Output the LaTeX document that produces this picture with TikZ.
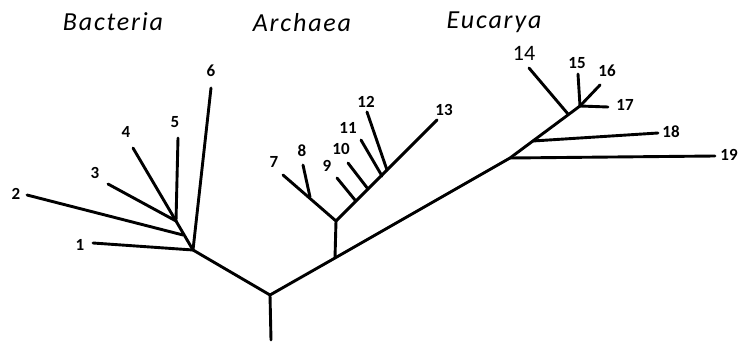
\documentclass[tikz,border=0pt]{standalone}
\usepackage{fontspec}
\setmainfont{Carlito}
\newfontfamily\titlefont[LetterSpace=7]{Carlito}
\begin{document}
\begin{tikzpicture}[x=1pt,y=-1pt,
  branch/.style={line width=2.9pt,line cap=round,line join=round},
  leaf/.style={font=\bfseries\fontsize{17}{17}\selectfont,inner sep=0pt},
  kingdom/.style={font=\titlefont\itshape\fontsize{26}{26}\selectfont,inner sep=0pt}]
\useasboundingbox (0,0) rectangle (740,343);
% domain titles
\node[kingdom] (tb) at (113,22) {Bacteria};
\node[kingdom] (ta) at (302,23) {Archaea};
\node[kingdom] (te) at (494,22) {Eucarya};
% junctions of the tree
\coordinate (root) at (271,340);
\coordinate (r) at (270,295);
\coordinate (jb) at (193,250);
\coordinate (jb2) at (183,235);
\coordinate (jb3) at (176,221);
\coordinate (ja0) at (335,258);
\coordinate (ja) at (336,221);
\coordinate (ja7) at (310,197);
\coordinate (ja9) at (355,200);
\coordinate (ja10) at (368,189);
\coordinate (ja11) at (382,176);
\coordinate (ja12) at (387,170);
\coordinate (je19) at (510,158);
\coordinate (je18) at (533,141);
\coordinate (je14) at (568,114);
\coordinate (je15) at (580,106);
% leaf ends
\coordinate (e1) at (93,243);
\coordinate (e2) at (27,195);
\coordinate (e3) at (108,184);
\coordinate (e4) at (133,148);
\coordinate (e5) at (178,138);
\coordinate (e6) at (211,88);
\coordinate (e7) at (283,175);
\coordinate (e8) at (303,165);
\coordinate (e9) at (337,178);
\coordinate (e10) at (348,163);
\coordinate (e11) at (361,140);
\coordinate (e12) at (367,112);
\coordinate (e13) at (437,120);
\coordinate (e14) at (529,68);
\coordinate (e15) at (578,74);
\coordinate (e16) at (600,85);
\coordinate (e17) at (608,107);
\coordinate (e18) at (658,133);
\coordinate (e19) at (715,156);
% leaf labels
\node[leaf] (n1) at (80,245) {1};
\node[leaf] (n2) at (16,194) {2};
\node[leaf] (n3) at (95,173) {3};
\node[leaf] (n4) at (126,132) {4};
\node[leaf] (n5) at (175,122) {5};
\node[leaf] (n6) at (211,71) {6};
\node[leaf] (n7) at (274,162) {7};
\node[leaf] (n8) at (302,151) {8};
\node[leaf] (n9) at (327,166) {9};
\node[leaf] (n10) at (341,149) {10};
\node[leaf] (n11) at (348,128) {11};
\node[leaf] (n12) at (366,102) {12};
\node[leaf] (n13) at (444,110) {13};
\node[font=\fontsize{22}{22}\selectfont,inner sep=0pt] (n14) at (524,53) {14};
\node[leaf] (n15) at (577,63) {15};
\node[leaf] (n16) at (607,71) {16};
\node[leaf] (n17) at (625,105) {17};
\node[leaf] (n18) at (671,132) {18};
\node[leaf] (n19) at (729,155) {19};
% trunk and branches
\draw[branch] (root) -- (r);
\draw[branch] (jb) -- (r) -- (ja0) -- (je19) -- (je15);
\draw[branch] (e1) -- (jb) -- (e6);
\draw[branch] (jb) -- (jb3);
\draw[branch] (e2) -- (jb2);
\draw[branch] (e3) -- (jb3) -- (e4);
\draw[branch] (e5) -- (jb3);
\draw[branch] (ja0) -- (ja) -- (e7);
\draw[branch] (ja7) -- (e8);
\draw[branch] (ja) -- (e13);
\draw[branch] (ja9) -- (e9);
\draw[branch] (ja10) -- (e10);
\draw[branch] (ja11) -- (e11);
\draw[branch] (ja12) -- (e12);
\draw[branch] (je19) -- (e19);
\draw[branch] (je18) -- (e18);
\draw[branch] (je14) -- (e14);
\draw[branch] (je15) -- (e15);
\draw[branch] (je15) -- (e16);
\draw[branch] (je15) -- (e17);
\end{tikzpicture}
\end{document}
